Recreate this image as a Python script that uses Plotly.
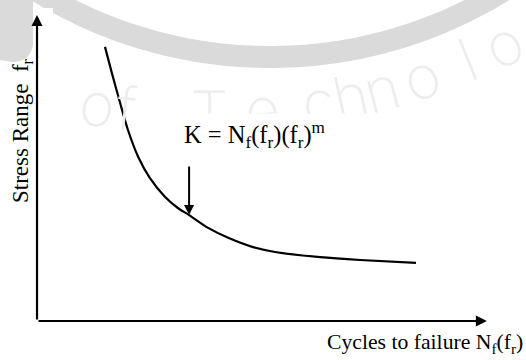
import numpy as np
import plotly.graph_objects as go

# S-N curve, schematic values (cycles axis, stress-range axis)
N_cycles = [1.39, 1.53, 1.70, 1.86, 2.07, 2.31, 2.62, 2.88, 3.11, 3.50,
            3.91, 4.40, 4.87, 5.79, 6.61, 7.75]
f_range = [8.54, 7.73, 6.79, 5.95, 5.11, 4.45, 3.86, 3.52, 3.30, 2.90,
           2.59, 2.31, 2.15, 1.99, 1.90, 1.81]

# point on the curve marked by the K arrow, and where that arrow starts
K_index = 8
K_arrow_top = 4.86

# axis arrow extents
X_AXIS_END = 9.20
Y_AXIS_END = 9.53

x_label = "Cycles to failure N<sub>f</sub>(f<sub>r</sub>)"
y_label = "Stress Range  f<sub>r</sub>"
k_label = "K = N<sub>f</sub>(f<sub>r</sub>)(f<sub>r</sub>)<sup>m</sup>"

W, H = 526, 360
X_RANGE = [-0.757, 10.0]
Y_RANGE = [-1.215, 10.0]


def px(x):
    """pixel column -> paper fraction"""
    return x / W


def py(y):
    """pixel row -> paper fraction"""
    return 1 - y / H


SERIF = "Liberation Serif, Times New Roman, serif"
INK = "#000000"
FAINT = "#dadada"

fig = go.Figure()

fig.add_trace(go.Scatter(
    x=N_cycles, y=f_range, mode="lines",
    line=dict(color=INK, width=2.2, shape="spline", smoothing=0.7),
    hoverinfo="skip", showlegend=False,
))

shapes = []

# faint logo ring in the background
cx, cy, r_out, r_in = 270, -388, 456, 434
t = np.linspace(np.deg2rad(30), np.deg2rad(150), 120)
outer = [(cx + r_out * np.cos(a), cy + r_out * np.sin(a)) for a in t]
inner = [(cx + r_in * np.cos(a), cy + r_in * np.sin(a)) for a in t[::-1]]
pts = outer + inner
path = "M " + " L ".join(f"{px(a):.4f},{py(b):.4f}" for a, b in pts) + " Z"
shapes.append(dict(type="path", path=path, xref="paper", yref="paper",
                   fillcolor=FAINT, line=dict(width=0), layer="below"))
# small patch at the top-left corner
shapes.append(dict(type="path", xref="paper", yref="paper", layer="below",
                   path=(f"M {px(0)},{py(0)} L {px(33)},{py(0)} L {px(33)},{py(45)} "
                         f"Q {px(30)},{py(62)} {px(12)},{py(62)} L {px(0)},{py(60)} Z"),
                   fillcolor=FAINT, line=dict(width=0)))
# white strip behind the top of the vertical axis
shapes.append(dict(type="rect", xref="paper", yref="paper", layer="below",
                   x0=px(33), x1=px(53), y0=py(130), y1=py(8),
                   fillcolor="white", line=dict(width=0)))

annotations = []

# faint lettering following the ring
tcx, tcy, tr = 200, -597, 709
letters = [("o", 97), ("f", 126), ("T", 210), ("e", 262), ("c", 318),
           ("h", 350), ("n", 381), ("o", 421), ("l", 468), ("o", 503)]
for ch, lx in letters:
    ly = tcy + np.sqrt(tr ** 2 - (lx - tcx) ** 2)
    ang = -np.degrees(np.arcsin((lx - tcx) / tr))
    annotations.append(dict(
        text=ch, x=px(lx), y=py(ly), xref="paper", yref="paper",
        showarrow=False, textangle=ang, xanchor="center", yanchor="middle",
        font=dict(family="Inter, Roboto, sans-serif",
                  size=60, color="#ededed", weight=200),
    ))

# white box behind the formula
annotations.append(dict(
    text=" ", x=px(180), y=py(113), xref="paper", yref="paper",
    xanchor="left", yanchor="top", showarrow=False,
    width=222, height=52, bgcolor="white", borderpad=0,
))

# formula
annotations.append(dict(
    text=k_label, x=px(182), y=py(135), xref="paper", yref="paper",
    xanchor="left", yanchor="middle", showarrow=False,
    font=dict(family=SERIF, size=24.5, color=INK),
))

# arrow pointing at the curve
annotations.append(dict(
    x=N_cycles[K_index], y=f_range[K_index],
    ax=N_cycles[K_index], ay=K_arrow_top, xref="x", yref="y",
    axref="x", ayref="y", text="", showarrow=True,
    arrowhead=2, arrowsize=1, arrowwidth=2, arrowcolor=INK, standoff=0,
))

# axis arrows
annotations.append(dict(
    x=0, y=Y_AXIS_END, ax=0, ay=0, xref="x", yref="y", axref="x", ayref="y",
    text="", showarrow=True, arrowhead=2, arrowsize=1, arrowwidth=2.2,
    arrowcolor=INK, standoff=0,
))
annotations.append(dict(
    x=X_AXIS_END, y=0, ax=0, ay=0, xref="x", yref="y", axref="x", ayref="y",
    text="", showarrow=True, arrowhead=2, arrowsize=1, arrowwidth=2.2,
    arrowcolor=INK, standoff=0,
))

# axis labels
annotations.append(dict(
    text=x_label, x=px(425), y=py(343), xref="paper", yref="paper",
    xanchor="center", yanchor="middle", showarrow=False,
    font=dict(family=SERIF, size=21.7, color=INK),
))
annotations.append(dict(
    text=y_label, x=px(22), y=py(131), xref="paper", yref="paper",
    xanchor="center", yanchor="middle", showarrow=False, textangle=-90,
    font=dict(family=SERIF, size=23, color=INK),
))

fig.update_layout(
    width=W, height=H,
    margin=dict(l=0, r=0, t=0, b=0),
    paper_bgcolor="white", plot_bgcolor="rgba(0,0,0,0)",
    xaxis=dict(range=X_RANGE, visible=False, fixedrange=True),
    yaxis=dict(range=Y_RANGE, visible=False, fixedrange=True),
    shapes=shapes, annotations=annotations, showlegend=False,
)

fig.write_html("out.html")
